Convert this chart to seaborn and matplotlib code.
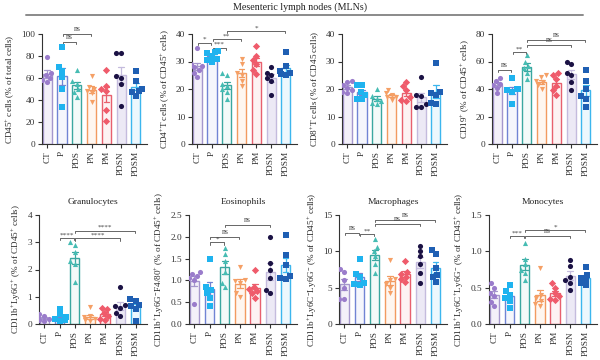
import numpy as np
import pandas as pd
import matplotlib
matplotlib.use("Agg")
import matplotlib.pyplot as plt
import seaborn as sns
from matplotlib.lines import Line2D

sns.set_style("ticks")
plt.rcParams["font.family"] = ["Liberation Serif", "DejaVu Serif"]
plt.rcParams["mathtext.fontset"] = "custom"
plt.rcParams["mathtext.rm"] = "Liberation Serif"
plt.rcParams["mathtext.default"] = "regular"

groups = ["CT", "P", "PDS", "PN", "PM", "PDSN", "PDSM"]
markers = ["o", "s", "^", "v", "D", "o", "s"]
point_colors = ["#9a7ccb", "#1fb3ef", "#46bcb3", "#f5a066", "#ef5b6b", "#1b1244", "#1f5fb3"]
edge_colors = ["#a597cc", "#7184d4", "#3aa7a0", "#f29a60", "#e8606e", "#c4bbdd", "#3cb6ee"]
face_colors = ["#f3f0f9", "#f5f6fc", "#f3faf9", "#fef6f0", "#fdf2f3", "#ece9f5", "#edf7fd"]

# ---- data ----
cd45 = [[79, 65, 63, 60, 58, 56], [88.5, 70, 66, 60.5, 50, 34], [67, 57.5, 55, 50, 47, 43],
        [62, 52, 50, 48, 46, 38], [67, 53, 50, 48, 31, 21], [83, 83, 62, 60, 54.5, 35],
        [66, 57, 50, 48, 47, 44]]
cd4 = [[35, 29, 28.5, 28, 27, 26, 24.5], [34, 33.5, 33, 32, 31, 30.5, 30], [26, 25, 22, 21, 20, 19, 16.5],
       [31, 29, 26, 25, 23, 21], [35.5, 32, 30.5, 29, 27, 25.5], [28, 26, 25, 24, 23, 18],
       [33.5, 28.5, 26.5, 26, 25.5, 25]]
cd8 = [[23, 22.5, 21.5, 20.5, 19.5, 19, 18.5], [21.5, 21.5, 19, 18, 16.5, 16.5], [20, 17.5, 16.5, 15.5, 15, 14.5],
       [19.5, 18.5, 18, 17, 17, 16], [22.5, 21, 19.5, 17, 16, 15.5], [24.5, 18, 17.5, 14.5, 13.5, 13.5],
       [29.5, 19, 18.5, 18, 15, 14.5]]
cd19 = [[48, 46, 44, 43, 41, 37], [48, 40, 40, 39, 38, 29], [65, 60, 57, 55, 52, 47],
        [50, 48.5, 46, 45, 43, 40], [52, 50, 47, 42, 39, 36], [60, 58, 52, 50, 45, 39],
        [54, 46, 40, 35, 33, 27]]
granulo = [[0.36, 0.3, 0.25, 0.2, 0.15, 0.1], [0.55, 0.35, 0.25, 0.2, 0.15, 0.12],
           [3.0, 2.9, 2.65, 2.3, 2.2, 1.55], [0.62, 0.3, 0.25, 0.2, 0.15, 0.1],
           [0.6, 0.55, 0.4, 0.3, 0.2, 0.15], [1.35, 0.7, 0.65, 0.6, 0.4, 0.3],
           [0.9, 0.85, 0.7, 0.65, 0.55, 0.1]]
eosino = [[1.2, 1.15, 1.1, 1.05, 1.0, 0.45], [1.5, 0.85, 0.78, 0.7, 0.6, 0.42],
          [1.75, 1.6, 1.45, 1.2, 0.95, 0.85], [1.3, 1.0, 0.98, 0.95, 0.7, 0.62],
          [1.25, 0.85, 0.8, 0.75, 0.7, 0.6], [2.0, 1.4, 1.25, 1.05, 0.78, 0.7],
          [2.05, 1.58, 1.35, 1.1, 1.06, 1.04]]
macro = [[7.6, 7.2, 6.1, 5.0, 3.5, 3.4], [9.0, 6.9, 6.4, 5.6, 5.5, 5.3], [11.7, 10.6, 10.0, 9.3, 8.3, 7.0],
         [8.8, 6.2, 6.0, 5.5, 5.0, 4.2], [8.7, 7.2, 6.9, 6.5, 6.2, 5.8], [10.8, 10.0, 9.3, 8.2, 7.0, 5.7],
         [10.2, 9.7, 7.7, 6.8, 6.4, 5.8]]
mono = [[0.56, 0.5, 0.42, 0.38, 0.3, 0.25], [0.53, 0.45, 0.4, 0.36, 0.32, 0.22],
        [1.12, 0.9, 0.82, 0.75, 0.7, 0.6], [0.77, 0.4, 0.36, 0.32, 0.28, 0.25],
        [0.56, 0.5, 0.42, 0.38, 0.35, 0.33], [0.88, 0.8, 0.65, 0.6, 0.57, 0.47],
        [0.79, 0.67, 0.63, 0.6, 0.56, 0.53]]

# significance brackets: (group i, group j, height, label)
br_cd45 = [(1, 2, 93, "ns"), (1, 3, 100, "ns")]
br_cd4 = [(0, 1, 36.8, "*"), (1, 2, 35, "***"), (1, 3, 38.1, "**"), (2, 6, 41.1, "*")]
br_cd8 = []
br_cd19 = [(0, 1, 53.8, "ns"), (1, 2, 67, "**"), (2, 5, 72, "ns"), (2, 6, 75.6, "ns")]
br_gran = [(1, 2, 3.16, "****"), (2, 5, 3.14, "****"), (2, 6, 3.42, "****")]
br_eos = [(1, 2, 1.87, "*"), (1, 3, 2.0, "ns"), (2, 5, 2.27, "ns")]
br_mac = [(0, 1, 12.5, "ns"), (1, 2, 12.4, "**"), (2, 5, 13.75, "ns"), (2, 6, 14.35, "ns")]
br_mono = [(1, 2, 1.21, "***"), (2, 5, 1.21, "ns"), (2, 6, 1.29, "*")]

panels = [
    (cd45, r"CD45$^{+}$ cells (% of total cells)", 100, [0, 20, 40, 60, 80, 100], None, br_cd45, "%d"),
    (cd4, r"CD4$^{+}$T cells (% of CD45$^{+}$ cells)", 40, [0, 10, 20, 30, 40], None, br_cd4, "%d"),
    (cd8, r"CD8$^{+}$T cells (% of CD45 cells)", 40, [0, 10, 20, 30, 40], None, br_cd8, "%d"),
    (cd19, r"CD19$^{+}$ (% of CD45$^{+}$ cells)", 80, [0, 20, 40, 60, 80], None, br_cd19, "%d"),
    (granulo, r"CD11b$^{+}$Ly6G$^{+}$ (% of CD45$^{+}$ cells)", 4, [0, 1, 2, 3, 4], "Granulocytes", br_gran, "%d"),
    (eosino, r"CD11b$^{+}$Ly6G$^{-}$F4/80$^{+}$ (% of CD45$^{+}$ cells)", 2.5, [0, 0.5, 1.0, 1.5, 2.0, 2.5], "Eosinophils", br_eos, "%.1f"),
    (macro, r"CD11b$^{+}$Ly6C$^{-}$Ly6G$^{-}$ (% of CD45$^{+}$ cells)", 15, [0, 5, 10, 15], "Macrophages", br_mac, "%d"),
    (mono, r"CD11b$^{+}$Ly6C$^{+}$Ly6G$^{-}$ (% of CD45$^{+}$ cells)", 1.5, [0, 0.5, 1.0, 1.5], "Monocytes", br_mono, "%.1f"),
]

W, H = 600, 360
fig = plt.figure(figsize=(6, 3.6), dpi=100)

top_lefts = [42, 192, 342, 492]
bot_lefts = [39, 189, 339, 489]

axc = "#333333"
brc = "#666666"

for k, (vals, ylab, ymax, yt, title, brs, fmt) in enumerate(panels):
    if k < 4:
        l, b, w, h = top_lefts[k], 144, 105, 110
    else:
        l, b, w, h = bot_lefts[k - 4], 324, 108, 109
    ax = fig.add_axes([l / W, 1 - b / H, w / W, h / H])
    rows = [(g, v) for g, vs in zip(groups, vals) for v in vs]
    df = pd.DataFrame(rows, columns=["g", "v"])
    for i, g in enumerate(groups):
        sub = df[df["g"] == g]
        sns.barplot(data=sub, x="g", y="v", order=groups, errorbar="se", capsize=0.38,
                    width=0.62, color=face_colors[i], saturation=1, edgecolor=edge_colors[i],
                    linewidth=1.0, err_kws={"color": edge_colors[i], "linewidth": 0.9}, ax=ax)
    for i, g in enumerate(groups):
        sub = df[df["g"] == g]
        sns.swarmplot(data=sub, x="g", y="v", order=groups, color=point_colors[i],
                      marker=markers[i], size=3.7, linewidth=0, ax=ax, zorder=4)
    ax.set_ylim(0, ymax)
    ax.set_xlim(-0.35, 6.75)
    ax.set_yticks(yt)
    ax.set_yticklabels([fmt % t for t in yt])
    ax.set_xticks(range(len(groups)))
    ax.set_xticklabels(groups, rotation=90)
    ax.set_xlabel("")
    ax.set_ylabel(ylab, fontsize=6.6, labelpad=3)
    ax.tick_params(axis="both", labelsize=6.7, length=3, width=0.8, colors=axc, pad=2)
    for s in ["left", "bottom"]:
        ax.spines[s].set_color(axc)
        ax.spines[s].set_linewidth(0.8)
    for s in ["top", "right"]:
        ax.spines[s].set_visible(False)
    if title:
        ax.set_title(title, fontsize=6.8, pad=8)
    th = ymax * 0.02
    for (i, j, y, lab) in brs:
        x1, x2 = i + 0.04, j - 0.04
        ax.plot([x1, x1, x2, x2], [y - th, y, y, y - th], color=brc, lw=0.7, clip_on=False)
        if lab == "ns":
            ax.annotate(lab, xy=((i + j) / 2, y), xytext=(0, 0.5), textcoords="offset points",
                        ha="center", va="bottom", fontsize=5.5, color="#444444", annotation_clip=False)
        else:
            ax.annotate(lab, xy=((i + j) / 2, y), xytext=(0, 1.2), textcoords="offset points",
                        ha="center", va="baseline", fontsize=5.2, color="#444444", annotation_clip=False)

fig.text(0.5, 1 - 7 / H, "Mesenteric lymph nodes (MLNs)", ha="center", va="center", fontsize=7.2, color="#222222")
fig.add_artist(Line2D([26 / W, 583 / W], [1 - 15 / H, 1 - 15 / H], color="#8a8a8a", lw=1.4))

fig.savefig("out.png", dpi=100)
